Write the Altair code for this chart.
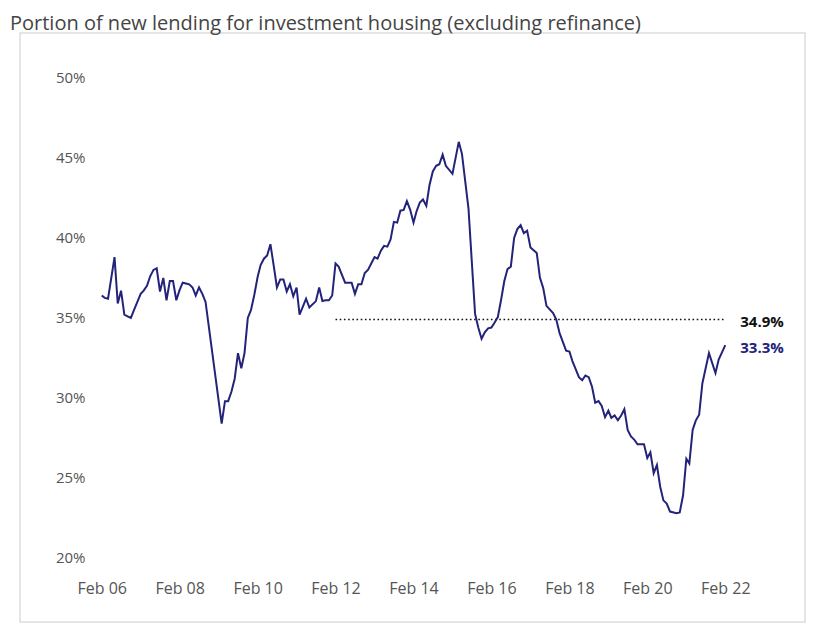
import altair as alt
import pandas as pd

# months since Feb 2006 and the share (%) of new lending for investment housing
month_offsets = [0, 1, 2, 4, 5, 6, 7, 8, 9, 10, 12, 13, 14, 15, 16, 17, 18, 19, 20, 21, 22, 23, 24, 25, 26, 27,
                 28, 29, 30, 31, 32, 37, 38, 39, 40, 41, 42, 43, 44, 45, 46, 47, 48, 49, 50, 51, 52, 53, 54, 55,
                 56, 57, 58, 59, 60, 61, 62, 63, 64, 66, 67, 68, 69, 70, 71, 72, 73, 75, 77, 78, 79, 80, 81, 82,
                 83, 84, 85, 86, 87, 88, 89, 90, 91, 92, 93, 94, 95, 96, 97, 98, 99, 100, 101, 102, 103, 104,
                 105, 106, 108, 110, 111, 113, 115, 116, 117, 118, 119, 120, 121, 122, 123, 124, 125, 126, 127,
                 128, 129, 130, 131, 132, 134, 135, 136, 137, 139, 140, 141, 143, 144, 145, 146, 147, 148, 149,
                 150, 151, 152, 153, 154, 155, 156, 157, 158, 159, 160, 161, 162, 163, 164, 165, 167, 168, 169,
                 170, 171, 172, 173, 174, 175, 177, 178, 179, 180, 181, 182, 183, 184, 185, 187, 189, 190, 192]
share = [36.4, 36.25, 36.2, 38.8, 35.9, 36.7, 35.2, 35.1, 35.0, 35.5, 36.5, 36.7, 37.0, 37.6, 38.0, 38.1, 36.65,
         37.5, 36.1, 37.3, 37.3, 36.1, 36.75, 37.2, 37.15, 37.1, 36.9, 36.4, 36.9, 36.5, 36.0, 28.4, 29.8, 29.8,
         30.4, 31.2, 32.8, 31.85, 32.8, 35.0, 35.5, 36.45, 37.55, 38.3, 38.7, 38.9, 39.6, 38.3, 36.9, 37.4, 37.4,
         36.65, 37.1, 36.35, 36.9, 35.2, 35.7, 36.2, 35.65, 36.05, 36.9, 36.05, 36.1, 36.1, 36.4, 38.4, 38.2,
         37.2, 37.2, 36.5, 37.1, 37.1, 37.8, 38.0, 38.4, 38.8, 38.7, 39.2, 39.5, 39.45, 39.9, 41.0, 40.95, 41.7,
         41.75, 42.3, 41.75, 40.95, 41.65, 42.2, 42.4, 42.0, 43.3, 44.15, 44.5, 44.6, 45.2, 44.5, 44.0, 46.0,
         45.25, 41.85, 35.25, 34.4, 33.7, 34.1, 34.35, 34.4, 34.7, 35.05, 36.1, 37.3, 38.05, 38.2, 40.0, 40.55,
         40.8, 40.3, 40.45, 39.4, 39.05, 37.5, 36.85, 35.75, 35.3, 34.9, 34.05, 32.95, 32.9, 32.3, 31.8, 31.3,
         31.1, 31.4, 31.3, 30.7, 29.7, 29.8, 29.5, 28.8, 29.2, 28.75, 28.9, 28.6, 28.9, 29.3, 28.0, 27.6, 27.4,
         27.1, 27.1, 26.25, 26.6, 25.3, 25.8, 24.45, 23.6, 23.4, 22.9, 22.8, 22.85, 23.9, 26.2, 25.9, 28.0, 28.6,
         28.95, 30.9, 32.8, 31.55, 32.4, 33.3]

# ten-year average reference line
avg_start = "2012-02-01"
avg_end = "2022-02-01"
avg_value = 34.9

label_texts = ["34.9%", "33.3%"]
label_values = [34.9, 33.3]
label_colors = ["#111111", "#23237a"]
label_date = "2022-02-01"

x_tick_years = [2006, 2008, 2010, 2012, 2014, 2016, 2018, 2020, 2022]
y_ticks = [20, 25, 30, 35, 40, 45, 50]

start = pd.Timestamp("2006-02-01")
dates = [(start + pd.DateOffset(months=m)).strftime("%Y-%m-%d") for m in month_offsets]
df = pd.DataFrame({"date": dates, "share": share})
avg_df = pd.DataFrame({"start": [avg_start], "end": [avg_end], "value": [avg_value]})
lab_df = pd.DataFrame({"date": [label_date] * 2, "value": label_values,
                       "text": label_texts, "color": label_colors})

LINE = "#23237a"
FONT = "Open Sans"

x_scale = alt.Scale(type="utc",
                    domain=[alt.DateTime(year=2003, month=12, date=28, utc=True),
                            alt.DateTime(year=2024, month=2, date=18, utc=True)])
y_scale = alt.Scale(domain=[16.0, 52.8], nice=False, zero=False)

x_axis = alt.Axis(values=[alt.DateTime(year=y, month=2, date=1, utc=True) for y in x_tick_years],
                  labelExpr="utcFormat(datum.value, '%b %y')", grid=False, domain=False, ticks=False,
                  labelPadding=0, offset=-42, labelFontSize=16, labelColor="#555555", labelFont=FONT,
                  title=None, labelBaseline="top")
y_axis = alt.Axis(values=y_ticks, labelExpr="datum.value + '%'", grid=False, domain=False, ticks=False,
                  labelPadding=0, offset=-65, labelFontSize=15, labelColor="#555555", labelFont=FONT,
                  title=None)

line = alt.Chart(df).mark_line(color=LINE, strokeWidth=2).encode(
    x=alt.X("date:T", scale=x_scale, axis=x_axis),
    y=alt.Y("share:Q", scale=y_scale, axis=y_axis),
)

rule = alt.Chart(avg_df).mark_rule(color="#111111", strokeWidth=1.6, strokeDash=[1.6, 2.6]).encode(
    x=alt.X("start:T", scale=x_scale),
    x2="end:T",
    y=alt.Y("value:Q", scale=y_scale),
)

labels = alt.Chart(lab_df).mark_text(align="left", baseline="middle", dx=15, dy=3, fontSize=15,
                                     fontWeight="bold", font=FONT).encode(
    x=alt.X("date:T", scale=x_scale),
    y=alt.Y("value:Q", scale=y_scale),
    text="text:N",
    color=alt.Color("color:N", scale=None),
)

chart = alt.layer(rule, line, labels).properties(
    width=785, height=589,
    title=alt.Title("Portion of new lending for investment housing (excluding  refinance)",
                    anchor="start", dx=-10, fontSize=20, fontWeight="normal", color="#444444",
                    font=FONT, offset=-1),
    padding={"left": 2, "top": 6, "right": 5, "bottom": 5},
).configure_view(stroke="#dddddd", strokeWidth=1.5)

chart.save("out.html", embed_options={"renderer": "svg", "actions": False})
